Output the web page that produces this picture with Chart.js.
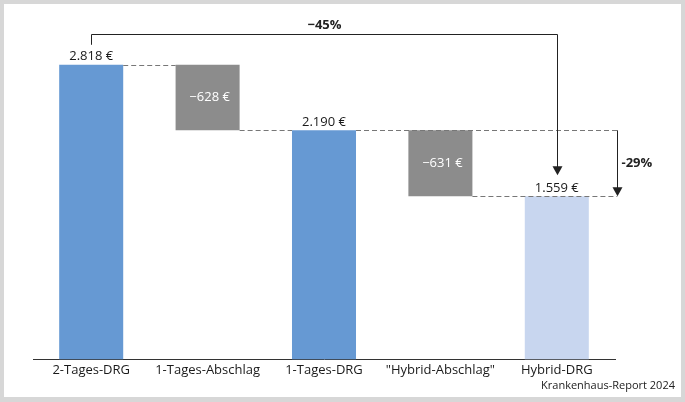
<!DOCTYPE html>
<html>
<head>
<meta charset="utf-8">
<script src="https://cdn.jsdelivr.net/npm/chart.js@4"></script>
<style>
    body { margin: 0; background: #d7d7d7; }
    #box { position: absolute; left: 4px; top: 4px; width: 677px; height: 393px; background: #fff; }
    #note { position: absolute; right: 6px; bottom: 5px; font: 11px "Open Sans", sans-serif; color: #222; }
</style>
</head>
<body>
<div id="box">
    <canvas id="chart" width="677" height="393"></canvas>
    <div id="note">Krankenhaus-Report 2024</div>
</div>
<script>
// categories and waterfall values (euro)
var categories = ['2-Tages-DRG', '1-Tages-Abschlag', '1-Tages-DRG', '"Hybrid-Abschlag"', 'Hybrid-DRG'];
var barStart = [0, 2190, 0, 1559, 0];
var barEnd = [2818, 2818, 2190, 2190, 1559];
var barKind = ['total', 'step', 'total', 'step', 'hybrid'];
var valueLabels = ['2.818 €', '\u2212628 €', '2.190 €', '\u2212631 €', '1.559 €'];

// arrows: -45% over the whole chart, -29% on the right
var bigArrowLabel = '\u221245%';
var bigArrowLevel = 3114;
var bigArrowStart = 3008;
var bigArrowTip = 1760;
var smallArrowLabel = '-29%';
var smallArrowX = 4.52;

var colors = { total: '#6699d3', step: '#8c8c8c', hybrid: '#c8d6ef' };
var font = '"Open Sans", sans-serif';

var waterfallPlugin = {
    id: 'waterfall',
    afterDatasetsDraw: function(chart) {
        var ctx = chart.ctx;
        var xs = chart.scales.x;
        var ys = chart.scales.y;
        var bars = chart.getDatasetMeta(0).data;
        var left = function(i) { return bars[i].x - bars[i].width / 2; };
        var right = function(i) { return bars[i].x + bars[i].width / 2; };
        var arrowX = xs.getPixelForValue(smallArrowX);

        ctx.save();
        // dashed connectors
        ctx.strokeStyle = '#777';
        ctx.lineWidth = 1;
        ctx.setLineDash([5, 3]);
        var dash = function(x1, x2, v) {
            var y = Math.round(ys.getPixelForValue(v)) + 0.5;
            ctx.beginPath();
            ctx.moveTo(x1, y);
            ctx.lineTo(x2, y);
            ctx.stroke();
        };
        dash(right(0), left(1), barEnd[0]);
        dash(right(1), left(2), barStart[1]);
        dash(right(2), arrowX, barEnd[2]);
        dash(right(3), arrowX, barStart[3]);
        ctx.setLineDash([]);

        // value labels
        ctx.font = '13px ' + font;
        ctx.textAlign = 'center';
        for (var i = 0; i < bars.length; i++) {
            if (barKind[i] === 'step') {
                ctx.fillStyle = '#fff';
                ctx.textBaseline = 'middle';
                ctx.fillText(valueLabels[i], bars[i].x + 2, (ys.getPixelForValue(barStart[i]) + ys.getPixelForValue(barEnd[i])) / 2);
            } else {
                ctx.fillStyle = '#1a1a1a';
                ctx.textBaseline = 'bottom';
                ctx.fillText(valueLabels[i], bars[i].x, ys.getPixelForValue(barEnd[i]) - 2);
            }
        }

        var arrowHead = function(x, y) {
            ctx.beginPath();
            ctx.moveTo(x, y);
            ctx.lineTo(x - 5, y - 9);
            ctx.lineTo(x + 5, y - 9);
            ctx.closePath();
            ctx.fill();
        };

        // -45% bracket
        ctx.strokeStyle = '#222';
        ctx.fillStyle = '#222';
        var x0 = Math.round(bars[0].x) + 0.5;
        var x4 = Math.round(bars[4].x) + 0.5;
        var yTop = Math.round(ys.getPixelForValue(bigArrowLevel)) + 0.5;
        var yTip = ys.getPixelForValue(bigArrowTip);
        ctx.beginPath();
        ctx.moveTo(x0, ys.getPixelForValue(bigArrowStart));
        ctx.lineTo(x0, yTop);
        ctx.lineTo(x4, yTop);
        ctx.lineTo(x4, yTip - 6);
        ctx.stroke();
        arrowHead(x4, yTip);
        ctx.font = 'bold 13px ' + font;
        ctx.textBaseline = 'bottom';
        ctx.fillText(bigArrowLabel, (x0 + x4) / 2, yTop - 3);

        // -29% arrow
        var ax = Math.round(arrowX) + 0.5;
        var y1 = ys.getPixelForValue(barEnd[2]);
        var y2 = ys.getPixelForValue(barStart[3]);
        ctx.beginPath();
        ctx.moveTo(ax, y1);
        ctx.lineTo(ax, y2 - 6);
        ctx.stroke();
        arrowHead(ax, y2);
        ctx.textAlign = 'left';
        ctx.textBaseline = 'middle';
        ctx.fillText(smallArrowLabel, ax + 4, (y1 + y2) / 2);
        ctx.restore();
    }
};

var data = categories.map(function(c, i) { return [barStart[i], barEnd[i]]; });

new Chart(document.getElementById('chart'), {
    type: 'bar',
    data: {
        labels: categories,
        datasets: [{
            data: data,
            backgroundColor: barKind.map(function(k) { return colors[k]; }),
            borderSkipped: false,
            categoryPercentage: 1,
            barPercentage: 0.55
        }]
    },
    options: {
        responsive: false,
        animation: false,
        layout: { padding: { left: 29, right: 66, top: 0, bottom: 16 } },
        plugins: { legend: { display: false }, tooltip: { enabled: false } },
        scales: {
            x: {
                grid: { display: false, drawTicks: false },
                border: { color: '#333', width: 1 },
                ticks: { color: '#1a1a1a', font: { family: font, size: 13 }, padding: 3 }
            },
            y: {
                display: false,
                min: 0,
                max: 3398
            }
        }
    },
    plugins: [waterfallPlugin]
});
</script>
</body>
</html>
